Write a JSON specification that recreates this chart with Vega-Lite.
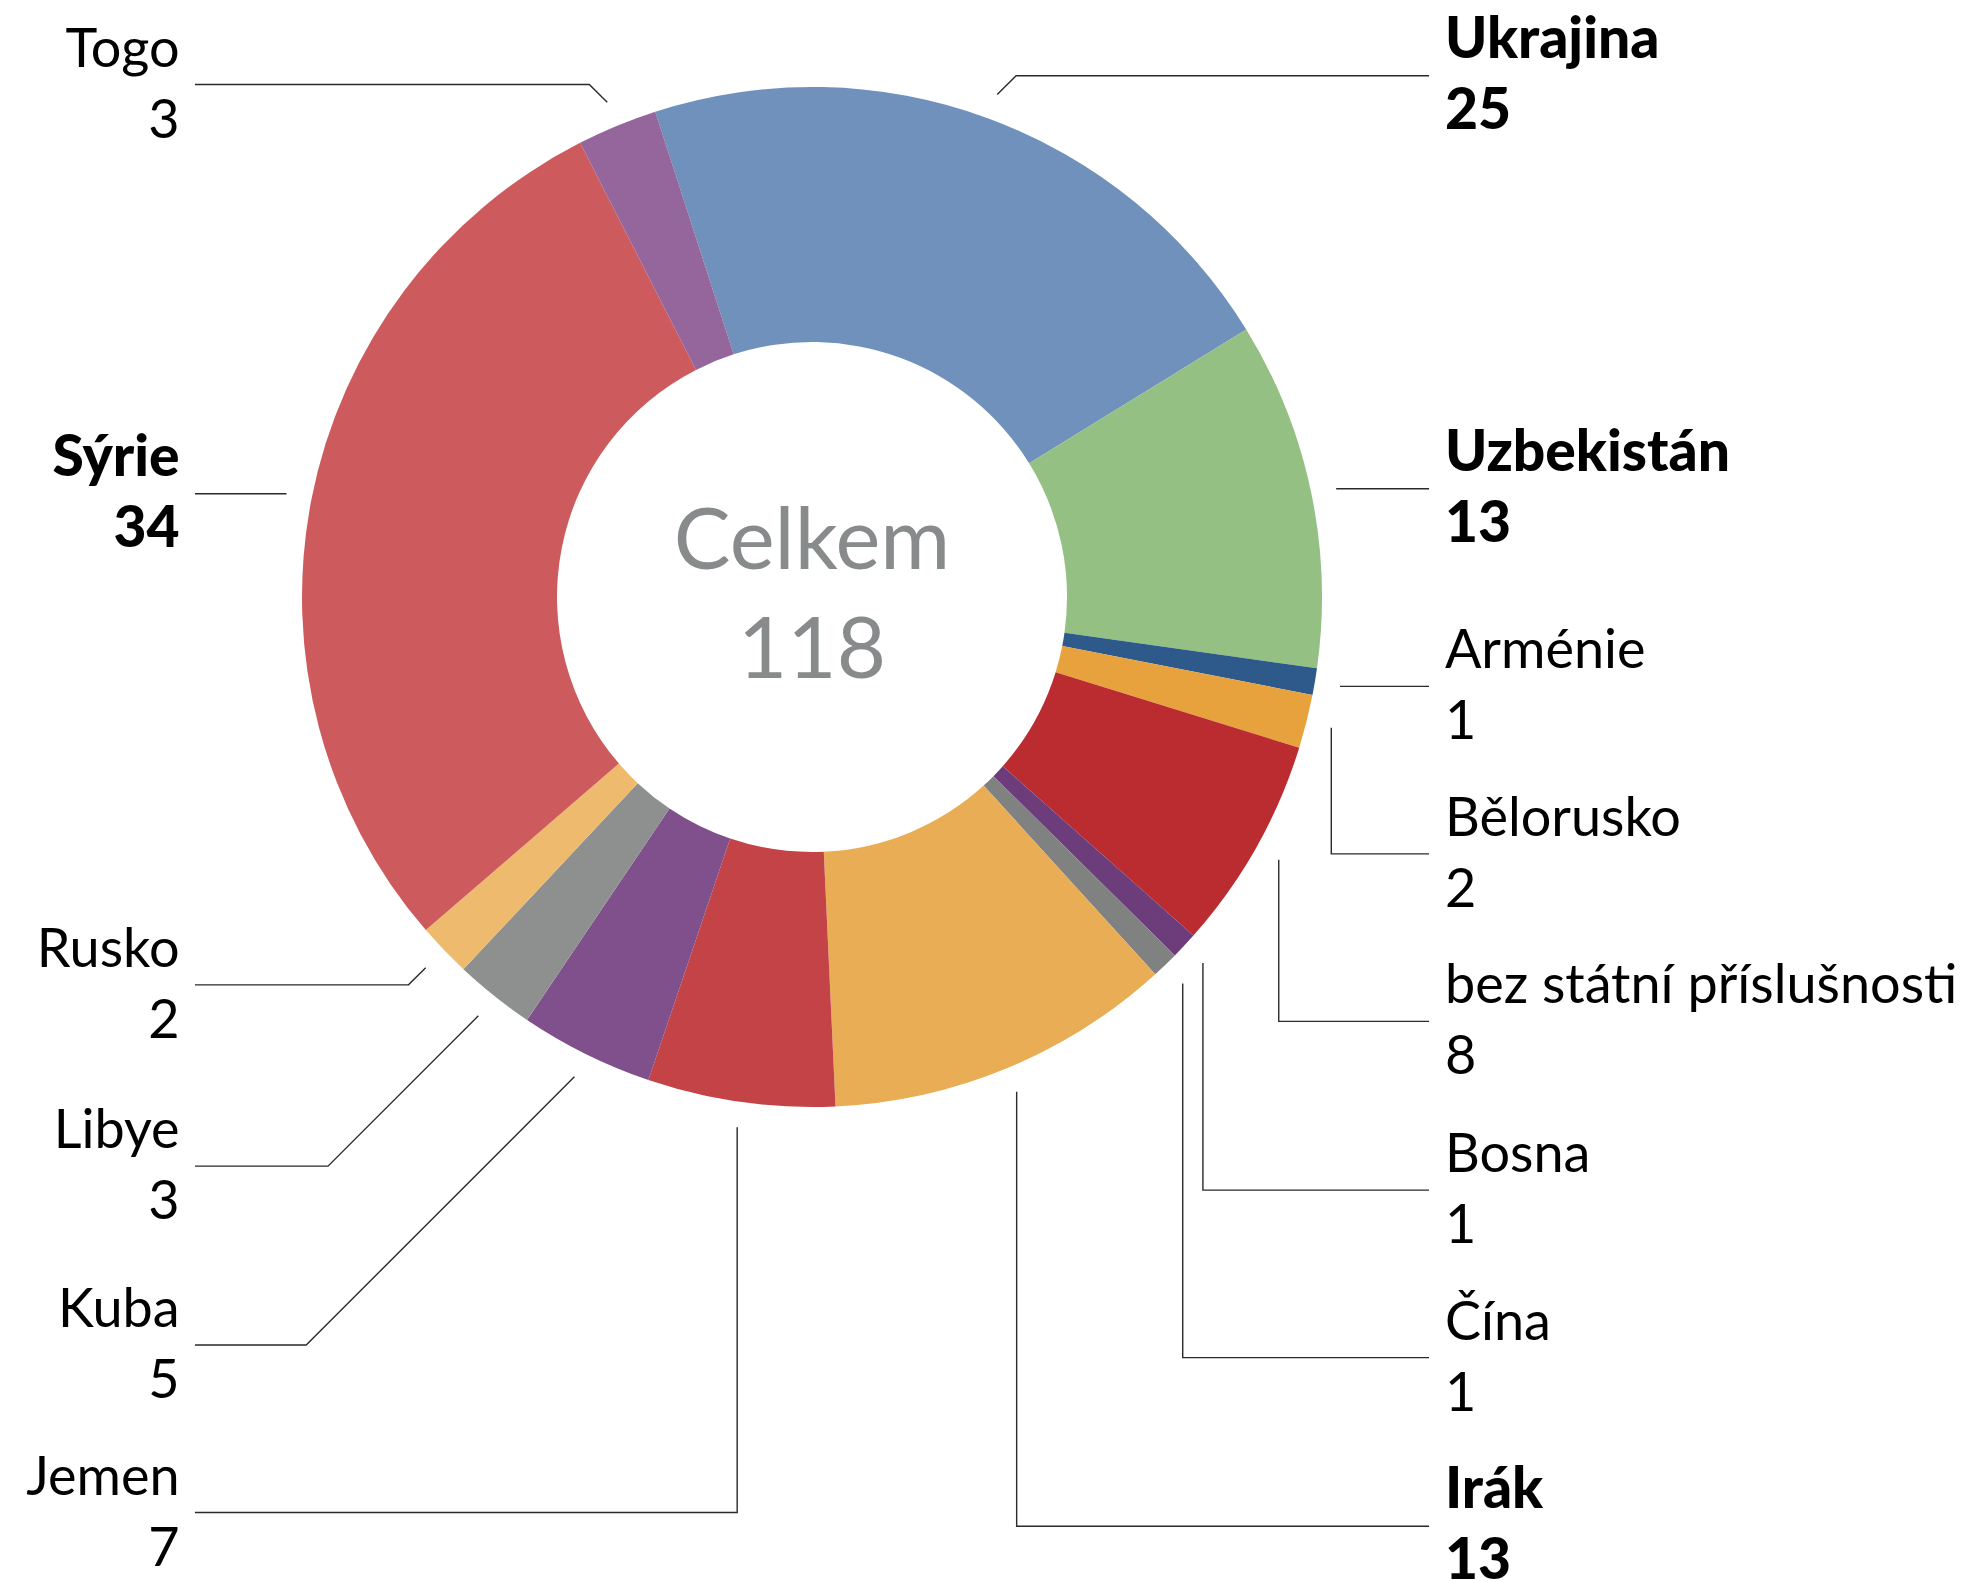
{
  "$schema": "https://vega.github.io/schema/vega-lite/v6.json",
  "width": 1973,
  "height": 1582,
  "autosize": "none",
  "padding": 0,
  "background": "white",
  "config": {"view": {"stroke": null}, "font": "Lato"},
  "datasets": {
    "zeme": [
      {"zeme": "Ukrajina", "n": 25, "i": 1, "bold": true, "side": "R", "lx": 1.241, "ly": 1.0222},
      {"zeme": "Uzbekistán", "n": 13, "i": 2, "bold": true, "side": "R", "lx": 1.241, "ly": 0.2123},
      {"zeme": "Arménie", "n": 1, "i": 3, "bold": false, "side": "R", "lx": 1.241, "ly": -0.1753},
      {"zeme": "Bělorusko", "n": 2, "i": 4, "bold": false, "side": "R", "lx": 1.241, "ly": -0.5037},
      {"zeme": "bez státní příslušnosti", "n": 8, "i": 5, "bold": false, "side": "R", "lx": 1.241, "ly": -0.8321},
      {"zeme": "Bosna", "n": 1, "i": 6, "bold": false, "side": "R", "lx": 1.241, "ly": -1.163},
      {"zeme": "Čína", "n": 1, "i": 7, "bold": false, "side": "R", "lx": 1.241, "ly": -1.4914},
      {"zeme": "Irák", "n": 13, "i": 8, "bold": true, "side": "R", "lx": 1.241, "ly": -1.8222},
      {"zeme": "Jemen", "n": 7, "i": 9, "bold": false, "side": "L", "lx": -1.24, "ly": -1.7951},
      {"zeme": "Kuba", "n": 5, "i": 10, "bold": false, "side": "L", "lx": -1.24, "ly": -1.4667},
      {"zeme": "Libye", "n": 3, "i": 11, "bold": false, "side": "L", "lx": -1.24, "ly": -1.116},
      {"zeme": "Rusko", "n": 2, "i": 12, "bold": false, "side": "L", "lx": -1.24, "ly": -0.7605},
      {"zeme": "Sýrie", "n": 34, "i": 13, "bold": true, "side": "L", "lx": -1.24, "ly": 0.2025},
      {"zeme": "Togo", "n": 3, "i": 14, "bold": false, "side": "L", "lx": -1.24, "ly": 1.0049}
    ],
    "vodici": [
      {"zeme": "Ukrajina", "k": 0, "u": 0.3632, "v": 0.9852},
      {"zeme": "Ukrajina", "k": 1, "u": 0.4002, "v": 1.0222},
      {"zeme": "Ukrajina", "k": 2, "u": 1.2099, "v": 1.0222},
      {"zeme": "Uzbekistán", "k": 0, "u": 1.0278, "v": 0.2123},
      {"zeme": "Uzbekistán", "k": 1, "u": 1.2099, "v": 0.2123},
      {"zeme": "Arménie", "k": 0, "u": 1.0354, "v": -0.1753},
      {"zeme": "Arménie", "k": 1, "u": 1.2099, "v": -0.1753},
      {"zeme": "Bělorusko", "k": 0, "u": 1.0182, "v": -0.2562},
      {"zeme": "Bělorusko", "k": 1, "u": 1.0182, "v": -0.5037},
      {"zeme": "Bělorusko", "k": 2, "u": 1.2099, "v": -0.5037},
      {"zeme": "bez státní příslušnosti", "k": 0, "u": 0.9152, "v": -0.5154},
      {"zeme": "bez státní příslušnosti", "k": 1, "u": 0.9152, "v": -0.8321},
      {"zeme": "bez státní příslušnosti", "k": 2, "u": 1.2099, "v": -0.8321},
      {"zeme": "Bosna", "k": 0, "u": 0.7665, "v": -0.7177},
      {"zeme": "Bosna", "k": 1, "u": 0.7665, "v": -1.163},
      {"zeme": "Bosna", "k": 2, "u": 1.2099, "v": -1.163},
      {"zeme": "Čína", "k": 0, "u": 0.7269, "v": -0.7577},
      {"zeme": "Čína", "k": 1, "u": 0.7269, "v": -1.4914},
      {"zeme": "Čína", "k": 2, "u": 1.2099, "v": -1.4914},
      {"zeme": "Irák", "k": 0, "u": 0.4013, "v": -0.9703},
      {"zeme": "Irák", "k": 1, "u": 0.4013, "v": -1.8222},
      {"zeme": "Irák", "k": 2, "u": 1.2099, "v": -1.8222},
      {"zeme": "Jemen", "k": 0, "u": -0.1467, "v": -1.0397},
      {"zeme": "Jemen", "k": 1, "u": -0.1467, "v": -1.7951},
      {"zeme": "Jemen", "k": 2, "u": -1.2099, "v": -1.7951},
      {"zeme": "Kuba", "k": 0, "u": -0.4659, "v": -0.9408},
      {"zeme": "Kuba", "k": 1, "u": -0.9918, "v": -1.4667},
      {"zeme": "Kuba", "k": 2, "u": -1.2099, "v": -1.4667},
      {"zeme": "Libye", "k": 0, "u": -0.6542, "v": -0.8212},
      {"zeme": "Libye", "k": 1, "u": -0.949, "v": -1.116},
      {"zeme": "Libye", "k": 2, "u": -1.2099, "v": -1.116},
      {"zeme": "Rusko", "k": 0, "u": -0.7575, "v": -0.7268},
      {"zeme": "Rusko", "k": 1, "u": -0.7912, "v": -0.7605},
      {"zeme": "Rusko", "k": 2, "u": -1.2099, "v": -0.7605},
      {"zeme": "Sýrie", "k": 0, "u": -1.0304, "v": 0.2025},
      {"zeme": "Sýrie", "k": 1, "u": -1.2099, "v": 0.2025},
      {"zeme": "Togo", "k": 0, "u": -0.4015, "v": 0.9702},
      {"zeme": "Togo", "k": 1, "u": -0.4367, "v": 1.0049},
      {"zeme": "Togo", "k": 2, "u": -1.2099, "v": 1.0049}
    ]
  },
  "layer": [
    {
      "data": {"name": "zeme"},
      "mark": {"type": "arc", "outerRadius": 510, "innerRadius": 255},
      "encoding": {
        "x": {"datum": 0, "type": "quantitative", "scale": {"domain": [-1.59216, 2.27647], "nice": false, "zero": false}, "axis": null},
        "y": {"datum": 0, "type": "quantitative", "scale": {"domain": [-1.93137, 1.17059], "nice": false, "zero": false}, "axis": null},
        "theta": {"field": "n", "type": "quantitative", "stack": true, "scale": {"range": [-0.3124, 5.9708]}},
        "order": {"field": "i", "type": "quantitative"},
        "color": {
          "field": "zeme", "type": "nominal", "legend": null,
          "scale": {
            "domain": ["Ukrajina", "Uzbekistán", "Arménie", "Bělorusko", "bez státní příslušnosti", "Bosna", "Čína", "Irák", "Jemen", "Kuba", "Libye", "Rusko", "Sýrie", "Togo"],
            "range": ["#6f91bb", "#94c084", "#2e5a8b", "#e7a23d", "#bb2c31", "#6d3d7b", "#808282", "#e9ad55", "#c44346", "#80508c", "#8e908f", "#eeba6d", "#cd5b5d", "#95669b"]
          }
        }
      }
    },
    {
      "data": {"name": "vodici"},
      "mark": {"type": "line", "color": "#2a2a2a", "strokeWidth": 1.4, "interpolate": "linear"},
      "encoding": {
        "x": {"field": "u", "type": "quantitative", "scale": {"domain": [-1.59216, 2.27647], "nice": false, "zero": false}, "axis": null},
        "y": {"field": "v", "type": "quantitative", "scale": {"domain": [-1.93137, 1.17059], "nice": false, "zero": false}, "axis": null},
        "detail": {"field": "zeme", "type": "nominal"},
        "order": {"field": "k", "type": "quantitative"}
      }
    },
    {
      "data": {"name": "zeme"},
      "mark": {
        "type": "text", "baseline": "alphabetic", "dy": -18, "color": "#000000",
        "fontSize": {"expr": "datum.bold ? 57 : 54"},
        "align": {"expr": "datum.side == 'L' ? 'right' : 'left'"},
        "fontWeight": {"expr": "datum.bold ? 900 : 400"}
      },
      "encoding": {
        "x": {"field": "lx", "type": "quantitative", "scale": {"domain": [-1.59216, 2.27647], "nice": false, "zero": false}, "axis": null},
        "y": {"field": "ly", "type": "quantitative", "scale": {"domain": [-1.93137, 1.17059], "nice": false, "zero": false}, "axis": null},
        "text": {"field": "zeme", "type": "nominal"}
      }
    },
    {
      "data": {"name": "zeme"},
      "mark": {
        "type": "text", "baseline": "alphabetic", "dy": 53, "color": "#000000",
        "fontSize": {"expr": "datum.bold ? 57 : 54"},
        "align": {"expr": "datum.side == 'L' ? 'right' : 'left'"},
        "fontWeight": {"expr": "datum.bold ? 900 : 400"}
      },
      "encoding": {
        "x": {"field": "lx", "type": "quantitative", "scale": {"domain": [-1.59216, 2.27647], "nice": false, "zero": false}, "axis": null},
        "y": {"field": "ly", "type": "quantitative", "scale": {"domain": [-1.93137, 1.17059], "nice": false, "zero": false}, "axis": null},
        "text": {"field": "n", "type": "quantitative"}
      }
    },
    {
      "data": {"name": "zeme"},
      "transform": [{"aggregate": [{"op": "sum", "field": "n", "as": "celkem"}]}],
      "mark": {"type": "text", "fontSize": 85, "baseline": "alphabetic", "align": "center", "color": "#878b8b", "dy": -28, "text": "Celkem"},
      "encoding": {
        "x": {"datum": 0, "type": "quantitative", "scale": {"domain": [-1.59216, 2.27647], "nice": false, "zero": false}, "axis": null},
        "y": {"datum": 0, "type": "quantitative", "scale": {"domain": [-1.93137, 1.17059], "nice": false, "zero": false}, "axis": null}
      }
    },
    {
      "data": {"name": "zeme"},
      "transform": [{"aggregate": [{"op": "sum", "field": "n", "as": "celkem"}]}],
      "mark": {"type": "text", "fontSize": 85, "baseline": "alphabetic", "align": "center", "color": "#878b8b", "dy": 81},
      "encoding": {
        "x": {"datum": 0, "type": "quantitative", "scale": {"domain": [-1.59216, 2.27647], "nice": false, "zero": false}, "axis": null},
        "y": {"datum": 0, "type": "quantitative", "scale": {"domain": [-1.93137, 1.17059], "nice": false, "zero": false}, "axis": null},
        "text": {"field": "celkem", "type": "quantitative"}
      }
    }
  ]
}
